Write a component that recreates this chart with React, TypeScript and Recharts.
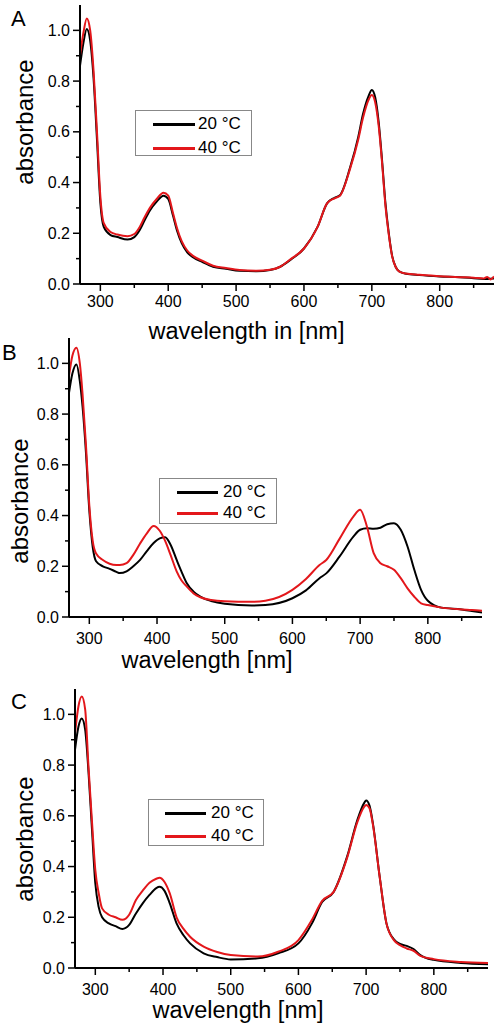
import React from "react";
import { LineChart, Line, XAxis, YAxis, Legend, Label } from "recharts";

const FONT = "Arial, 'Liberation Sans', Helvetica, sans-serif";

// ---------- data ----------
const seriesNames = ["20 °C", "40 °C"];
const seriesColors = ["#000000", "#e3171b"];

const xTicks = [300, 350, 400, 450, 500, 550, 600, 650, 700, 750, 800, 850];
const yTicks = [0, 0.1, 0.2, 0.3, 0.4, 0.5, 0.6, 0.7, 0.8, 0.9, 1.0];

// Panel A
const wlA = [270, 275, 280, 285, 290, 295, 300, 305, 315, 325, 340, 350, 358, 365, 373, 383, 393, 400, 407, 413, 420, 428, 437, 450, 466, 485, 505, 530, 550, 565, 580, 600, 620, 634, 645, 653, 668, 680, 687, 695, 700, 705, 710, 715, 720, 725, 730, 735, 740, 750, 770, 800, 830, 850, 865, 870, 875, 880];
const a20 = [0.86, 0.95, 1.005, 0.96, 0.81, 0.57, 0.32, 0.225, 0.193, 0.185, 0.175, 0.185, 0.213, 0.25, 0.29, 0.325, 0.348, 0.335, 0.27, 0.21, 0.16, 0.125, 0.105, 0.087, 0.068, 0.06, 0.052, 0.05, 0.055, 0.068, 0.095, 0.14, 0.225, 0.318, 0.34, 0.35, 0.46, 0.58, 0.67, 0.74, 0.765, 0.735, 0.64, 0.49, 0.32, 0.2, 0.11, 0.068, 0.05, 0.04, 0.035, 0.03, 0.027, 0.023, 0.02, 0.02, 0.021, 0.022];
const a40 = [0.9, 0.99, 1.047, 1.0, 0.84, 0.6, 0.345, 0.24, 0.205, 0.195, 0.188, 0.197, 0.225, 0.262, 0.3, 0.335, 0.36, 0.348, 0.28, 0.22, 0.168, 0.132, 0.11, 0.092, 0.072, 0.063, 0.055, 0.052, 0.056, 0.068, 0.097, 0.14, 0.225, 0.318, 0.338, 0.348, 0.455, 0.57, 0.655, 0.725, 0.745, 0.715, 0.625, 0.48, 0.31, 0.195, 0.108, 0.068, 0.05, 0.041, 0.036, 0.031, 0.027, 0.025, 0.022, 0.028, 0.018, 0.03];

// Panel B
const wlB = [270, 275, 281, 286, 290, 295, 300, 305, 310, 320, 330, 340, 345, 355, 365, 375, 385, 395, 404, 412, 420, 429, 436, 444, 454, 464, 480, 500, 540, 560, 600, 620, 640, 650, 670, 690, 700, 710, 720, 730, 740, 750, 760, 770, 780, 790, 800, 820, 850, 865, 880];
const b20 = [0.884, 0.96, 0.996, 0.93, 0.83, 0.65, 0.42, 0.277, 0.22, 0.2, 0.19, 0.178, 0.173, 0.18, 0.2, 0.225, 0.26, 0.292, 0.31, 0.314, 0.285, 0.225, 0.18, 0.133, 0.1, 0.08, 0.063, 0.052, 0.045, 0.047, 0.074, 0.105, 0.153, 0.172, 0.24, 0.317, 0.344, 0.35, 0.348, 0.352, 0.366, 0.37, 0.344, 0.278, 0.186, 0.107, 0.064, 0.037, 0.03, 0.024, 0.018];
const b40 = [0.95, 1.03, 1.062, 1.0, 0.88, 0.68, 0.44, 0.3, 0.25, 0.225, 0.21, 0.205, 0.205, 0.212, 0.245, 0.29, 0.33, 0.359, 0.34, 0.3, 0.245, 0.18, 0.145, 0.12, 0.093, 0.078, 0.067, 0.062, 0.06, 0.064, 0.107, 0.15, 0.205, 0.225, 0.31, 0.396, 0.423, 0.357, 0.252, 0.212, 0.2, 0.186, 0.153, 0.113, 0.08, 0.054, 0.047, 0.037, 0.03, 0.028, 0.025];

// Panel C
const wlC = [270, 275, 280, 285, 290, 295, 300, 305, 310, 320, 330, 340, 350, 360, 370, 380, 390, 395, 402, 410, 420, 430, 440, 460, 480, 500, 540, 570, 600, 620, 635, 652, 672, 687, 697, 700, 705, 710, 720, 730, 741, 750, 760, 770, 780, 800, 840, 880];
const c20 = [0.86, 0.95, 0.984, 0.94, 0.77, 0.55, 0.334, 0.24, 0.2, 0.176, 0.165, 0.154, 0.17, 0.215, 0.255, 0.288, 0.315, 0.32, 0.305, 0.255, 0.176, 0.13, 0.097, 0.058, 0.043, 0.034, 0.038, 0.058, 0.097, 0.176, 0.26, 0.3, 0.44, 0.583, 0.65, 0.66, 0.64, 0.57, 0.36, 0.176, 0.113, 0.095, 0.087, 0.075, 0.051, 0.032, 0.02, 0.015];
const c40 = [0.925, 1.03, 1.07, 1.02, 0.79, 0.58, 0.386, 0.295, 0.235, 0.21, 0.2, 0.19, 0.21, 0.268, 0.305, 0.336, 0.352, 0.356, 0.34, 0.294, 0.2, 0.155, 0.123, 0.084, 0.063, 0.051, 0.045, 0.064, 0.11, 0.19, 0.265, 0.3, 0.435, 0.575, 0.635, 0.643, 0.63, 0.565, 0.36, 0.176, 0.11, 0.09, 0.077, 0.068, 0.048, 0.035, 0.024, 0.02];

const build = (wl: number[], s1: number[], s2: number[]) =>
  wl.map((w, i) => ({ wl: w, t20: s1[i], t40: s2[i] }));

const dataA = build(wlA, a20, a40);
const dataB = build(wlB, b20, b40);
const dataC = build(wlC, c20, c40);

// ---------- layout ----------
type Panel = {
  letter: string;
  data: any[];
  top: number;
  height: number;
  margin: { top: number; right: number; left: number; bottom: number };
  yWidth: number;
  xHeight: number;
  tickOff: number;
  yLabel: { x: number; y: number };
  xLabel: { x: number; y: number; text: string };
  letterPos: { x: number; y: number };
  legend: { left: number; top: number; width: number; height: number; lineX1: number; lineX2: number; textX: number; rows: number[] };
};

const panels: Panel[] = [
  {
    letter: "A",
    data: dataA,
    top: 0,
    height: 350,
    margin: { top: 5, right: 4, left: 0, bottom: 6 },
    yWidth: 80,
    xHeight: 60,
    tickOff: 23,
    yLabel: { x: 33, y: 122 },
    xLabel: { x: 246.5, y: 339, text: "wavelength in [nm]" },
    letterPos: { x: 11, y: 26 },
    legend: { left: 135, top: 110, width: 117, height: 46, lineX1: 17, lineX2: 59, textX: 62, rows: [13, 37] },
  },
  {
    letter: "B",
    data: dataB,
    top: 336,
    height: 340,
    margin: { top: 2, right: 16, left: 0, bottom: 4 },
    yWidth: 69,
    xHeight: 55,
    tickOff: 26.5,
    yLabel: { x: 28, y: 165 },
    xLabel: { x: 207, y: 332, text: "wavelength [nm]" },
    letterPos: { x: 2, y: 24 },
    legend: { left: 159, top: 142, width: 118, height: 46, lineX1: 17, lineX2: 58, textX: 63, rows: [13, 34] },
  },
  {
    letter: "C",
    data: dataC,
    top: 686,
    height: 342,
    margin: { top: 3, right: 10, left: 0, bottom: 4 },
    yWidth: 75,
    xHeight: 56,
    tickOff: 27,
    yLabel: { x: 33, y: 153 },
    xLabel: { x: 238, y: 332, text: "wavelength [nm]" },
    letterPos: { x: 11, y: 23 },
    legend: { left: 148, top: 113, width: 116, height: 47, lineX1: 16, lineX2: 57, textX: 62, rows: [13, 36] },
  },
];

const makeXTick = (off: number) => (props: any) => {
  const { x, y, payload } = props;
  const major = payload.value % 100 === 0;
  return (
    <g>
      <line x1={x} x2={x} y1={y} y2={y + (major ? 7 : 4)} stroke="#000" strokeWidth={1.5} />
      {major && (
        <text x={x} y={y + off} textAnchor="middle" fontSize={16} fontFamily={FONT} fill="#000">
          {payload.value}
        </text>
      )}
    </g>
  );
};

const YTick = (props: any) => {
  const { x, y, payload } = props;
  const major = Math.round(payload.value * 10) % 2 === 0;
  return (
    <g>
      <line x1={x - (major ? 7 : 4)} x2={x} y1={y} y2={y} stroke="#000" strokeWidth={1.5} />
      {major && (
        <text x={x - 10} y={y + 5.5} textAnchor="end" fontSize={16} fontFamily={FONT} fill="#000">
          {payload.value.toFixed(1)}
        </text>
      )}
    </g>
  );
};

const makeLegend = (p: Panel) => () => (
  <div
    style={{
      position: "relative",
      width: p.legend.width,
      height: p.legend.height,
      border: "1px solid #888",
      boxSizing: "border-box",
      background: "#fff",
      fontFamily: FONT,
      fontSize: 17,
      color: "#000",
    }}
  >
    {seriesNames.map((name, i) => (
      <React.Fragment key={name}>
        <div
          style={{
            position: "absolute",
            left: p.legend.lineX1,
            top: p.legend.rows[i] - 1,
            width: p.legend.lineX2 - p.legend.lineX1,
            height: 2.5,
            background: seriesColors[i],
          }}
        />
        <div
          style={{
            position: "absolute",
            left: p.legend.textX,
            top: p.legend.rows[i] - 10,
            lineHeight: "20px",
            whiteSpace: "nowrap",
          }}
        >
          {name}
        </div>
      </React.Fragment>
    ))}
  </div>
);

const PanelChart = ({ p }: { p: Panel }) => (
  <div style={{ position: "absolute", left: 0, top: p.top, width: 498, height: p.height }}>
    <LineChart width={498} height={p.height} data={p.data} margin={p.margin}>
      <XAxis
        dataKey="wl"
        type="number"
        domain={[270, 880]}
        ticks={xTicks}
        interval={0}
        allowDataOverflow
        height={p.xHeight}
        tickSize={0}
        tickMargin={0}
        tick={makeXTick(p.tickOff)}
        axisLine={{ stroke: "#000", strokeWidth: 2 }}
        tickLine={false}
      >
        <Label
          content={() => (
            <text x={p.xLabel.x} y={p.xLabel.y} textAnchor="middle" fontSize={23.5} fontFamily={FONT} fill="#000">
              {p.xLabel.text}
            </text>
          )}
        />
      </XAxis>
      <YAxis
        type="number"
        domain={[0, 1.1]}
        ticks={yTicks}
        interval={0}
        allowDataOverflow
        width={p.yWidth}
        tickSize={0}
        tickMargin={0}
        tick={YTick}
        axisLine={{ stroke: "#000", strokeWidth: 2 }}
        tickLine={false}
      >
        <Label
          content={() => (
            <g>
              <text
                x={p.yLabel.x}
                y={p.yLabel.y}
                transform={`rotate(-90 ${p.yLabel.x} ${p.yLabel.y})`}
                textAnchor="middle"
                fontSize={24}
                fontFamily={FONT}
                fill="#000"
              >
                absorbance
              </text>
              <text x={p.letterPos.x} y={p.letterPos.y} fontSize={22} fontFamily={FONT} fill="#000">
                {p.letter}
              </text>
            </g>
          )}
        />
      </YAxis>
      <Legend
        layout="vertical"
        align="center"
        verticalAlign="middle"
        content={makeLegend(p)}
        wrapperStyle={{ left: p.legend.left, top: p.legend.top, width: p.legend.width, height: p.legend.height }}
      />
      <Line
        type="monotone"
        dataKey="t20"
        name={seriesNames[0]}
        stroke={seriesColors[0]}
        strokeWidth={2}
        dot={false}
        isAnimationActive={false}
      />
      <Line
        type="monotone"
        dataKey="t40"
        name={seriesNames[1]}
        stroke={seriesColors[1]}
        strokeWidth={2}
        dot={false}
        isAnimationActive={false}
      />
    </LineChart>
  </div>
);

export default function App() {
  return (
    <div style={{ position: "absolute", left: 0, top: 0, width: 498, height: 1028, background: "#fff" }}>
      {panels.map((p) => (
        <PanelChart key={p.letter} p={p} />
      ))}
    </div>
  );
}
